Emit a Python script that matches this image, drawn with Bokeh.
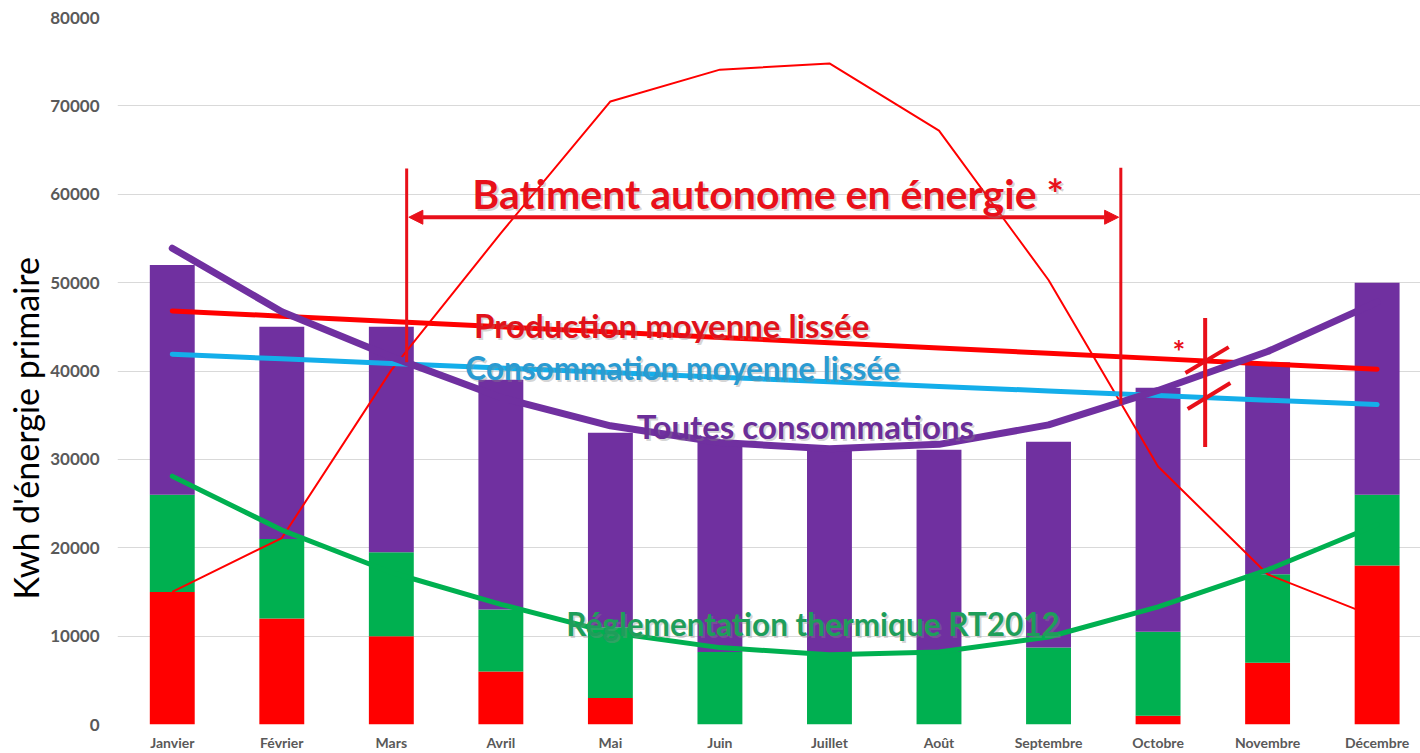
from bokeh.plotting import figure
from bokeh.models import (FixedTicker, NumeralTickFormatter, Range1d, Title,
                          Label, Arrow, NormalHead, ColumnDataSource)
from bokeh.embed import file_html
from bokeh.resources import INLINE

months = ["Janvier", "Février", "Mars", "Avril", "Mai", "Juin", "Juillet", "Août",
          "Septembre", "Octobre", "Novembre", "Décembre"]
# stacked bars (kWh)
chauffage = [15000, 12000, 10000, 6000, 3000, 0, 0, 0, 0, 1000, 7000, 18000]          # red
rt2012_part = [11000, 9000, 9500, 7000, 8000, 8200, 8000, 8200, 8700, 9500, 10000, 8000]  # green
autres = [26000, 24000, 25500, 26000, 22000, 23800, 23500, 22900, 23300, 27600, 24000, 24000]  # purple
# lines
production = [15000, 21100, 40100, 55600, 70500, 74100, 74800, 67200, 50300, 29200, 17000, 12100]
toutes_conso = [53900, 46700, 41600, 37000, 33800, 31900, 31200, 31700, 33900, 37800, 42200, 47800]
rt2012_curve = [28100, 22000, 17200, 13600, 10400, 8700, 7900, 8200, 9900, 13300, 17500, 22600]
prod_moy = [46800, 46200, 45600, 45000, 44400, 43800, 43200, 42600, 42000, 41400, 40800, 40200]
conso_moy = [41900, 41380, 40860, 40340, 39820, 39300, 38780, 38260, 37740, 37220, 36700, 36200]
y_ticks = [0, 10000, 20000, 30000, 40000, 50000, 60000, 70000, 80000]

x = list(range(len(months)))

RED = "#FF0000"
GREEN = "#00B050"
PURPLE = "#7030A0"
BLUE = "#14AEEA"
ANN = "#E8101A"

p = figure(width=1420, height=753, output_backend="svg", toolbar_location=None,
           x_range=Range1d(-0.5, 11.396), y_range=Range1d(0, 80000),
           min_border_left=115, min_border_top=17, min_border_right=0, min_border_bottom=28)
p.outline_line_color = None
p.background_fill_color = "white"
p.border_fill_color = "white"

src = ColumnDataSource(dict(x=x, chauffage=chauffage, rt=rt2012_part, autres=autres))
p.vbar_stack(["chauffage", "rt", "autres"], x="x", width=0.41, source=src,
             color=[RED, GREEN, PURPLE], line_width=0)

p.line(x, production, line_color=RED, line_width=2)
p.line(x, prod_moy, line_color=RED, line_width=5, line_cap="round")
p.line(x, conso_moy, line_color=BLUE, line_width=5, line_cap="round")
p.line(x, toutes_conso, line_color=PURPLE, line_width=7, line_cap="round", line_join="round")
p.line(x, rt2012_curve, line_color=GREEN, line_width=5, line_cap="round", line_join="round")

# annotation: autonomy period
p.segment(x0=[2.14, 8.66], y0=[62900, 63000], x1=[2.14, 8.66], y1=[41000, 36200],
          line_color=ANN, line_width=3)
p.add_layout(Arrow(x_start=2.16, y_start=57400, x_end=8.64, y_end=57400,
                   line_color=ANN, line_width=4,
                   start=NormalHead(size=14, fill_color=ANN, line_color=ANN),
                   end=NormalHead(size=14, fill_color=ANN, line_color=ANN)))
p.segment(x0=[9.43, 9.25, 9.27], y0=[46000, 39770, 35700],
          x1=[9.43, 9.645, 9.66], y1=[31400, 42700, 38640],
          line_color=ANN, line_width=4)

def add_text(txt, xx, yy, color, size, shadow=True):
    if shadow:
        p.add_layout(Label(x=xx, y=yy, text=txt, text_color="#888888", text_alpha=0.35,
                           text_font="Lato", text_font_style="bold", text_font_size=size,
                           text_align="center", text_baseline="alphabetic",
                           x_offset=2, y_offset=-2))
    p.add_layout(Label(x=xx, y=yy, text=txt, text_color=color,
                       text_font="Lato", text_font_style="bold", text_font_size=size,
                       text_align="center", text_baseline="alphabetic"))

add_text("Batiment autonome en énergie *", 5.44, 60100, ANN, "41px")
add_text("Production moyenne lissée", 4.56, 45200, "#E0121B", "33px")
add_text("Consommation moyenne lissée", 4.66, 40300, "#2A9BD2", "31.5px")
add_text("Toutes consommations", 5.78, 33800, "#6B2E99", "33px")
add_text("Réglementation thermique RT2012", 5.85, 11400, "#1E9E5A", "31.5px")
add_text("*", 9.19, 42300, ANN, "30px", shadow=False)

# axes
p.xgrid.visible = False
p.ygrid.grid_line_color = "#D9D9D9"
p.ygrid.grid_line_width = 1
p.yaxis.ticker = FixedTicker(ticks=y_ticks)
p.yaxis.formatter = NumeralTickFormatter(format="0")
p.xaxis.ticker = FixedTicker(ticks=x)
p.xaxis.major_label_overrides = {i: m for i, m in enumerate(months)}
for ax in (p.xaxis, p.yaxis):
    ax.axis_line_color = None
    ax.major_tick_line_color = None
    ax.minor_tick_line_color = None
    ax.major_tick_out = 0
    ax.major_tick_in = 0
    ax.major_label_text_color = "#595959"
    ax.major_label_text_font = "Lato"
    ax.major_label_text_font_style = "bold"
p.yaxis.major_label_text_font_size = "17px"
p.yaxis.major_label_standoff = 18
p.xaxis.major_label_text_font_size = "14px"
p.xaxis.major_label_standoff = 9

# y-axis title (as a left-side title so it can sit lower than the frame centre)
p.add_layout(Title(text="Kwh d'énergie primaire", align="left", offset=125,
                   text_font="Lato", text_font_style="normal", text_font_size="34px",
                   text_color="#000000", standoff=4), "left")

open("out.html", "w").write(file_html(p, INLINE))
